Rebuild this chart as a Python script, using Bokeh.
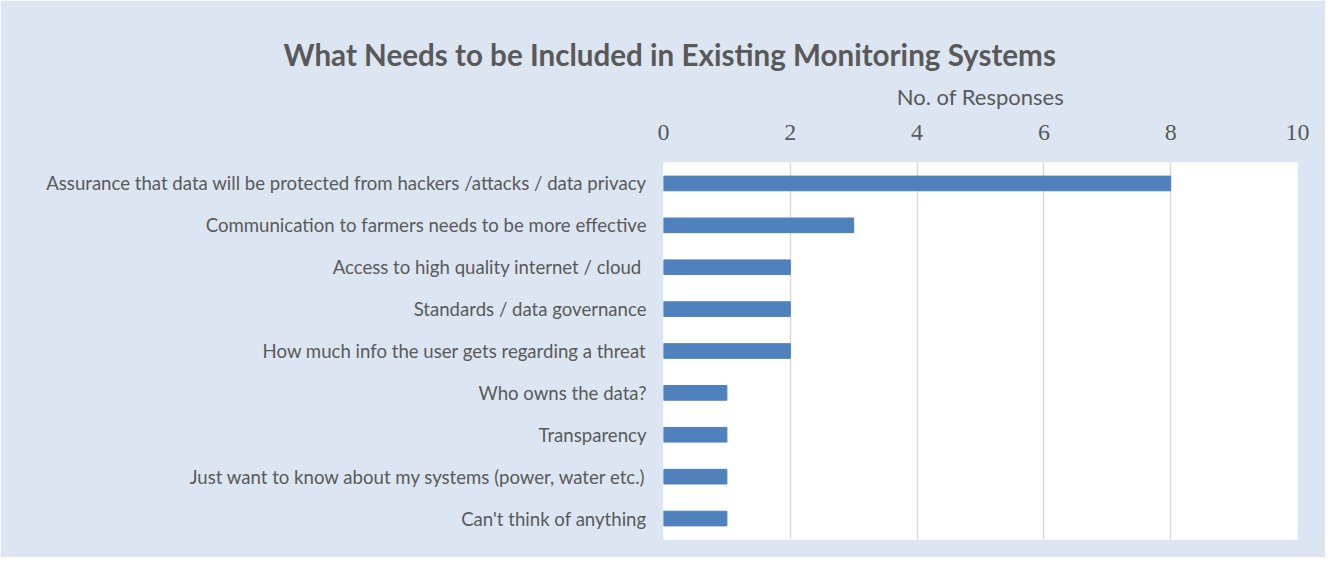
from bokeh.plotting import figure
from bokeh.models import FactorRange, Range1d, Title
from bokeh.embed import file_html
from bokeh.resources import INLINE

categories = [
    "Assurance that data will be protected from hackers /attacks / data privacy",
    "Communication to farmers needs to be more effective",
    "Access to high quality internet / cloud ",
    "Standards / data governance",
    "How much info the user gets regarding a threat",
    "Who owns the data?",
    "Transparency",
    "Just want to know about my systems (power, water etc.)",
    "Can't think of anything",
]
responses = [8, 3, 2, 2, 2, 1, 1, 1, 1]
x_ticks = [0, 2, 4, 6, 8, 10]
title_text = "What Needs to be Included in Existing Monitoring Systems"
axis_title = "No. of Responses"

BG = "#dce6f2"
TXT = "#595959"
SANS = "Lato"

p = figure(
    width=1325, height=557,
    y_range=FactorRange(factors=list(reversed(categories)), range_padding=0),
    x_range=Range1d(0, 10),
    x_axis_location="above",
    output_backend="svg", toolbar_location=None,
    min_border_left=663, min_border_right=28, min_border_top=162, min_border_bottom=18,
)
p.border_fill_color = BG
p.background_fill_color = "white"
p.outline_line_color = None

p.hbar(y=categories, right=responses, left=0, height=0.35, color="#4f81bd")

xa = p.xaxis[0]
xa.ticker = x_ticks
xa.axis_label = axis_title
xa.axis_label_text_font = SANS
xa.axis_label_text_font_size = "22px"
xa.axis_label_text_font_style = "normal"
xa.axis_label_text_color = TXT
xa.axis_label_standoff = 12
xa.major_label_text_font = "Liberation Serif"
xa.major_label_text_font_size = "24px"
xa.major_label_text_color = TXT
xa.major_label_standoff = 17
xa.axis_line_color = None
xa.major_tick_line_color = None
xa.minor_tick_line_color = None

ya = p.yaxis[0]
ya.major_label_text_font = SANS
ya.major_label_text_font_size = "18.6px"
ya.major_label_text_color = TXT
ya.major_label_standoff = 11
ya.axis_line_color = None
ya.major_tick_line_color = None
ya.minor_tick_line_color = None

p.xgrid.grid_line_color = "#d9d9d9"
p.xgrid.grid_line_width = 1.5
p.ygrid.grid_line_color = None

t = Title(text=title_text, align="left", offset=-380,
          text_font=SANS, text_font_size="29.6px", text_font_style="bold",
          text_color=TXT, standoff=16)
p.add_layout(t, "above")
p.title.text = ""

open("out.html", "w").write(file_html(p, INLINE))
